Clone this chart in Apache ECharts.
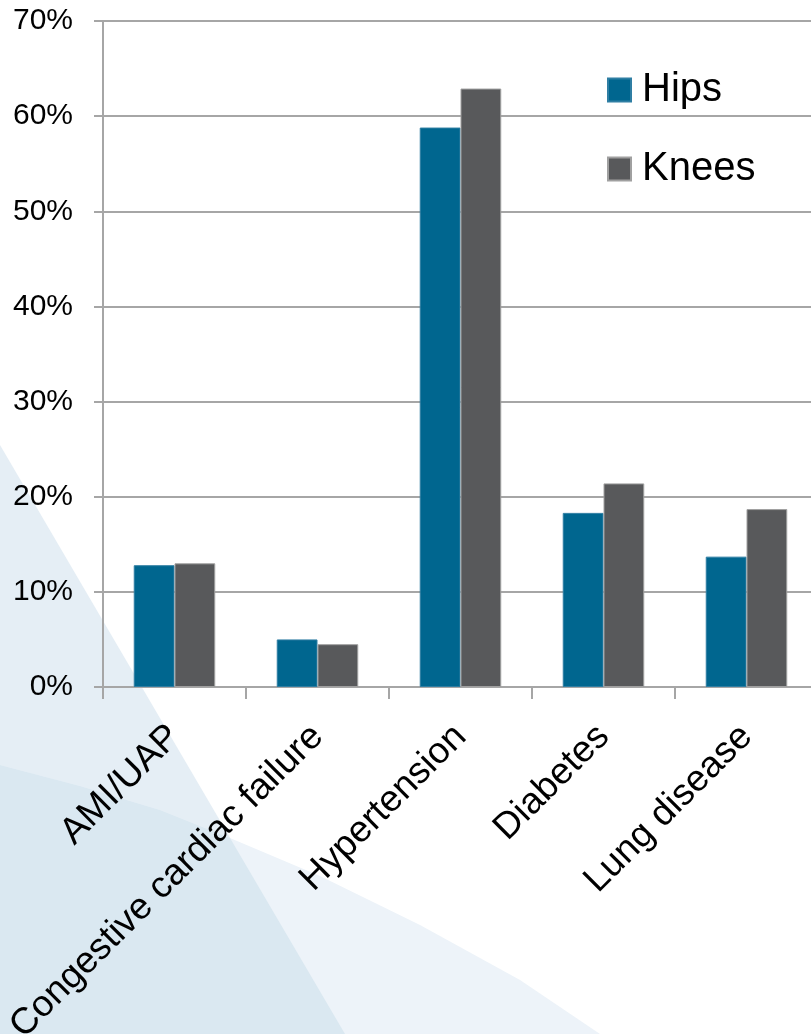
<!DOCTYPE html>
<html>
<head>
<meta charset="utf-8">
<script src="https://cdn.jsdelivr.net/npm/echarts@6/dist/echarts.min.js"></script>
<style>
html,body{margin:0;padding:0;background:#fff;}
#chart{width:811px;height:1034px;}
</style>
</head>
<body>
<div id="chart"></div>
<script>
const categories = ['AMI/UAP', 'Congestive cardiac failure', 'Hypertension', 'Diabetes', 'Lung disease'];
const hips = [12.8, 5.0, 58.8, 18.3, 13.7];
const knees = [13.0, 4.5, 62.9, 21.4, 18.7];
const yTicks = { min: 0, max: 70, interval: 10 };

const FONT = "'Liberation Sans', Arial, sans-serif";
const chart = echarts.init(document.getElementById('chart'), null, { renderer: 'canvas' });

const option = {
  backgroundColor: '#ffffff',
  animation: false,
  graphic: [
    { type: 'polygon', z: -100, silent: true,
      shape: { points: [[0, 445], [345, 1034], [0, 1034]] },
      style: { fill: '#e5eef5' } },
    { type: 'polygon', z: -99, silent: true,
      shape: { points: [[0, 765], [80, 786], [160, 810], [230, 838], [320, 876], [420, 925], [520, 980], [600, 1034], [0, 1034]] },
      style: { fill: '#edf3f9' } },
    { type: 'polygon', z: -98, silent: true,
      shape: { points: [[0, 765], [80, 786], [160, 810], [230, 838], [345, 1034], [0, 1034]] },
      style: { fill: '#dae8f1' } }
  ],
  grid: { left: 103, top: 21, width: 715, height: 666, containLabel: false, outerBoundsMode: 'none' },
  legend: {
    orient: 'vertical',
    left: 607,
    top: 70,
    padding: 0,
    itemWidth: 23,
    itemHeight: 23,
    itemGap: 39,
    icon: 'rect',
    textStyle: { fontFamily: FONT, fontSize: 40, color: '#000', padding: [0, 0, 0, 6] },
    data: ['Hips', 'Knees']
  },
  xAxis: {
    type: 'category',
    data: categories,
    axisLine: { show: true, lineStyle: { color: '#a6a6a6', width: 2 } },
    axisTick: { show: true, length: 12, lineStyle: { color: '#a6a6a6', width: 2 } },
    axisLabel: { interval: 0, rotate: 45, margin: 44, fontFamily: FONT, fontSize: 37, color: '#000' }
  },
  yAxis: {
    type: 'value',
    min: yTicks.min, max: yTicks.max, interval: yTicks.interval,
    axisLine: { show: true, lineStyle: { color: '#a6a6a6', width: 2 } },
    axisTick: { show: true, length: 9, lineStyle: { color: '#a6a6a6', width: 2 } },
    splitLine: { show: true, lineStyle: { color: '#a6a6a6', width: 2 } },
    axisLabel: { formatter: '{value}%', margin: 30, fontFamily: FONT, fontSize: 30, color: '#000' }
  },
  series: [
    { name: 'Hips', type: 'bar', data: hips, barGap: '0%', barCategoryGap: '43%',
      itemStyle: { color: '#00668f', borderColor: '#2f7ea3', borderWidth: 1 } },
    { name: 'Knees', type: 'bar', data: knees, barGap: '0%', barCategoryGap: '43%',
      itemStyle: { color: '#58595b', borderColor: '#a0a0a0', borderWidth: 1 } }
  ]
};
chart.setOption(option);
</script>
</body>
</html>
